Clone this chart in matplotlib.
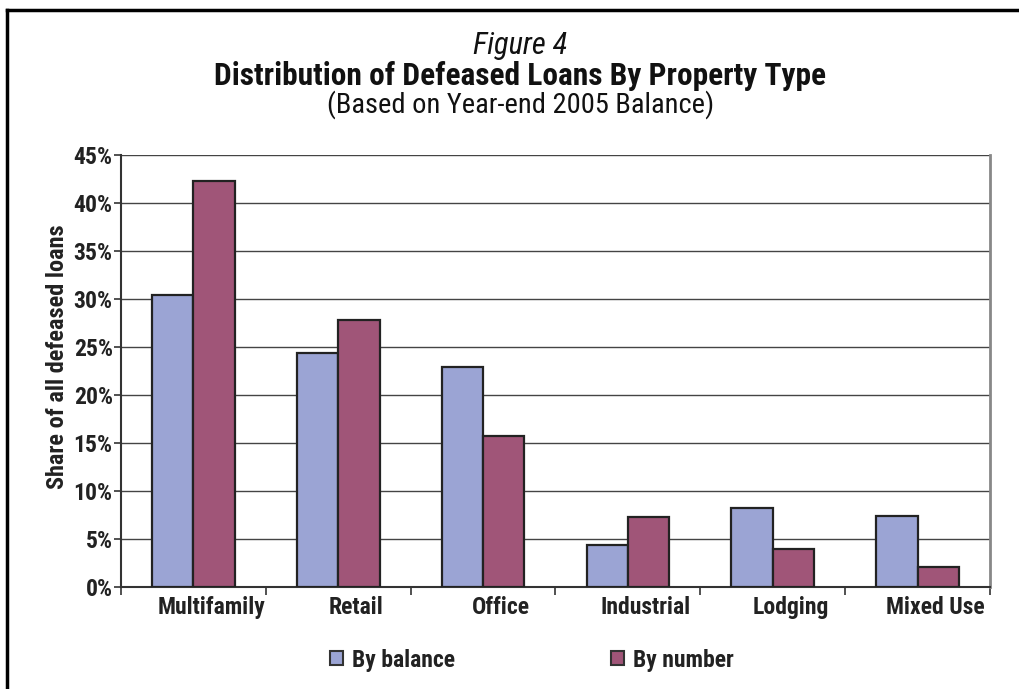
import matplotlib
matplotlib.use("Agg")
import matplotlib.pyplot as plt
from matplotlib.lines import Line2D
from matplotlib.patches import Patch
import matplotlib.transforms as mtransforms
import numpy as np

categories = ["Multifamily", "Retail", "Office", "Industrial", "Lodging", "Mixed Use"]
by_balance = [30.4, 24.4, 22.9, 4.4, 8.2, 7.4]
by_number = [42.3, 27.8, 15.7, 7.3, 4.0, 2.1]
series_names = ["By balance", "By number"]
y_ticks = [0, 5, 10, 15, 20, 25, 30, 35, 40, 45]

col_bal = "#9BA4D4"
col_num = "#A05578"

plt.rcParams['font.family'] = ["Roboto Condensed", "DejaVu Sans"]

fig = plt.figure(figsize=(10.19, 6.89), dpi=100)
ax = fig.add_axes([121/1019, 1-587/689, (990-121)/1019, (587-155)/689])

x = np.arange(len(categories))
w = 0.285
ax.bar(x - w/2, by_balance, w, color=col_bal, edgecolor="#222222", linewidth=1.6, zorder=3)
ax.bar(x + w/2, by_number, w, color=col_num, edgecolor="#222222", linewidth=1.6, zorder=3)

ax.set_xlim(-0.5, len(categories) - 0.5)
ax.set_ylim(0, 45)
ax.set_yticks(y_ticks)
ax.set_yticklabels([f"{v}%" for v in y_ticks], fontsize=17, fontweight="bold", color="#222222")
ax.yaxis.grid(True, color="#444444", linewidth=1.0, zorder=0)
ax.set_axisbelow(True)

ax.set_xticks(np.arange(-0.5, len(categories) + 0.5, 1.0))
ax.set_xticklabels([])
ax.tick_params(axis="x", direction="out", length=6, width=1.2, color="#333333")
ax.tick_params(axis="y", direction="out", length=5, width=1.2, color="#333333", pad=1)

offset = mtransforms.ScaledTranslation(18/100, 0, fig.dpi_scale_trans)
for xi, lab in zip(x, categories):
    ax.text(xi, -0.9, lab, ha="center", va="top", fontsize=17, fontweight="bold",
            color="#222222", transform=ax.transData + offset)

for s in ["left", "bottom"]:
    ax.spines[s].set_color("#333333")
    ax.spines[s].set_linewidth(1.5)
ax.spines["right"].set_color("#888888")
ax.spines["right"].set_linewidth(2)
ax.spines["top"].set_visible(False)

ax.set_ylabel("Share of all defeased loans", fontsize=17.5, fontweight="bold", color="#222222")
ax.yaxis.set_label_coords(-0.060, 0.532)

fig.text(0.5105, 1-45/689, "Figure 4", ha="center", va="center", fontsize=22, style="italic", color="#111111")
fig.text(0.5105, 1-76/689, "Distribution of Defeased Loans By Property Type", ha="center", va="center",
         fontsize=22.6, fontweight="bold", color="#111111")
fig.text(0.5105, 1-105/689, "(Based on Year-end 2005 Balance)", ha="center", va="center",
         fontsize=20.5, color="#111111")

handles = [Patch(facecolor=col_bal, edgecolor="#333333", linewidth=1.5),
           Patch(facecolor=col_num, edgecolor="#333333", linewidth=1.5)]
leg = fig.legend(handles, series_names, loc="center", bbox_to_anchor=(532/1019, 1-660/689), ncol=2,
                 frameon=False, handlelength=0.55, handleheight=0.55,
                 handletextpad=0.4, columnspacing=6.6, prop={"weight": "bold", "size": 17})
for t in leg.get_texts():
    t.set_color("#222222")

fig.add_artist(Line2D([7/1019, 7/1019], [0, 1-10/689], color="black", linewidth=2.5, transform=fig.transFigure))
fig.add_artist(Line2D([7/1019, 1], [1-10/689, 1-10/689], color="black", linewidth=2.5, transform=fig.transFigure))

fig.savefig("out.png", dpi=100)
